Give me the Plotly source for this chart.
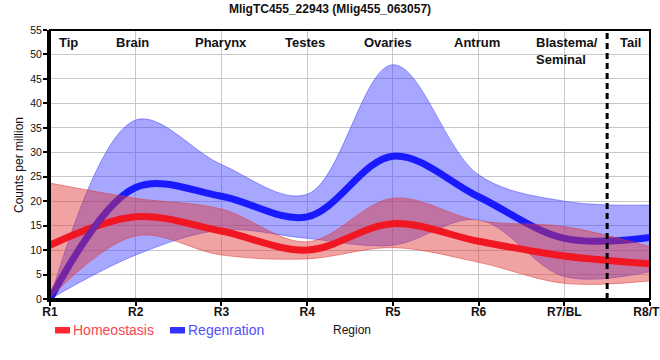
import plotly.graph_objects as go

regions = ["R1", "R2", "R3", "R4", "R5", "R6", "R7/BL", "R8/TL"]

homeo_mean = [11.0, 16.8, 13.9, 10.0, 15.4, 11.8, 8.8, 7.2]
homeo_upper = [23.7, 20.6, 18.4, 11.7, 20.6, 16.0, 14.8, 10.7]
homeo_lower = [0.3, 12.9, 9.0, 8.2, 10.5, 7.5, 3.2, 3.7]

regen_mean = [0.0, 22.8, 21.0, 16.8, 29.2, 20.9, 12.4, 12.6]
regen_upper = [0.0, 36.6, 27.5, 21.4, 47.9, 25.4, 20.0, 19.2]
regen_lower = [0.0, 9.0, 14.1, 12.4, 11.0, 16.2, 4.6, 5.6]

section_labels = ["Tip", "Brain", "Pharynx", "Testes", "Ovaries", "Antrum", "Blastema/<br>Seminal", "Tail"]
section_pos = [0.21, 0.96, 1.99, 2.97, 3.94, 4.98, 5.65, 6.77]
section_anchor = ["center"] * 6 + ["left", "center"]

title = "MligTC455_22943 (Mlig455_063057)"
series_names = ["Homeostasis", "Regenration"]
x_title = "Region"
y_title = "Counts per million"

FONT = "Arial, Liberation Sans, sans-serif"
RED_LINE = "rgb(255,0,20)"
BLUE_LINE = "rgb(26,26,255)"
RED_FILL = "rgba(225,50,50,0.45)"
BLUE_FILL = "rgba(60,60,255,0.45)"

W, H = 660, 360
# plot area in pixels: x 50..650, y 30..299
L, R, T, B = 50, 650, 30, 299
PW, PH = R - L, B - T

def px(xp):
    return (xp - L) / PW

def py(yp):
    return (B - yp) / PH

fig = go.Figure()
sp = dict(shape="spline", smoothing=1.0)

# Regeneration band
fig.add_trace(go.Scatter(x=regions, y=regen_upper, mode="lines",
                         line=dict(width=1, color="rgba(60,60,255,0.5)", **sp),
                         showlegend=False, hoverinfo="skip"))
fig.add_trace(go.Scatter(x=regions, y=regen_lower, mode="lines", fill="tonexty",
                         fillcolor=BLUE_FILL,
                         line=dict(width=1, color="rgba(60,60,255,0.5)", **sp),
                         showlegend=False, hoverinfo="skip"))
# Mean lines
fig.add_trace(go.Scatter(x=regions, y=homeo_mean, mode="lines",
                         line=dict(width=7, color=RED_LINE, **sp), showlegend=False))
fig.add_trace(go.Scatter(x=regions, y=regen_mean, mode="lines",
                         line=dict(width=7, color=BLUE_LINE, **sp), showlegend=False))
# Homeostasis band
fig.add_trace(go.Scatter(x=regions, y=homeo_upper, mode="lines",
                         line=dict(width=1, color="rgba(220,60,60,0.5)", **sp),
                         showlegend=False, hoverinfo="skip"))
fig.add_trace(go.Scatter(x=regions, y=homeo_lower, mode="lines", fill="tonexty",
                         fillcolor=RED_FILL,
                         line=dict(width=1, color="rgba(220,60,60,0.5)", **sp),
                         showlegend=False, hoverinfo="skip"))

# section labels
for lab, pos, anc in zip(section_labels, section_pos, section_anchor):
    fig.add_annotation(x=pos, y=55, xref="x", yref="y", text="<b>%s</b>" % lab,
                       showarrow=False, xanchor=anc, yanchor="top", align="left",
                       yshift=-3,
                       font=dict(family=FONT, size=13, color="#111"))

# dashed separator
fig.add_shape(type="line", x0=6.5, x1=6.5, y0=0, y1=1, xref="x", yref="paper",
              line=dict(color="black", width=3, dash="6px,4px"))
# frame
fig.add_shape(type="rect", x0=0, x1=1, y0=0, y1=1, xref="paper", yref="paper",
              line=dict(color="black", width=2), layer="above")

# manual legend
legend_items = [(series_names[0], "rgb(255,40,50)", "rgb(250,70,80)", 55, 74),
                (series_names[1], "rgb(50,50,255)", "rgb(80,80,255)", 170, 189)]
for name, col, tcol, rx, tx in legend_items:
    fig.add_shape(type="rect", xref="paper", yref="paper",
                  x0=px(rx), x1=px(rx + 15),
                  y0=py(333.5), y1=py(327),
                  line=dict(width=0), fillcolor=col)
    fig.add_annotation(xref="paper", yref="paper", x=px(tx), y=py(330),
                       text=name, showarrow=False, xanchor="left", yanchor="middle",
                       xshift=-3,
                       font=dict(family=FONT, size=14, color=tcol))

# axis titles
fig.add_annotation(xref="paper", yref="paper", x=px(352), y=py(330), text=x_title,
                   showarrow=False, xanchor="center", yanchor="middle",
                   font=dict(family=FONT, size=12, color="#111"))
fig.add_annotation(xref="paper", yref="paper", x=px(19), y=py(165), text=y_title,
                   showarrow=False, xanchor="center", yanchor="middle", textangle=-90,
                   font=dict(family=FONT, size=12, color="#111"))

fig.update_layout(
    width=W, height=H,
    margin=dict(l=L, r=W - R, t=T, b=H - B, autoexpand=False),
    paper_bgcolor="white", plot_bgcolor="white",
    title=dict(text="<b>%s</b>" % title, x=330 / W, xanchor="center",
               y=1 - 9 / H, yanchor="middle",
               font=dict(family=FONT, size=12, color="#111")),
    font=dict(family=FONT, color="#111"),
    showlegend=False,
)
fig.update_xaxes(type="category", categoryorder="array", categoryarray=regions,
                 range=[0, 7], showgrid=True, gridcolor="#c8c8c8", gridwidth=1,
                 showline=True, linecolor="black", linewidth=3,
                 ticks="outside", ticklen=4, tickwidth=2, tickcolor="black",
                 ticklabelstandoff=-4,
                 tickfont=dict(family=FONT, size=12, color="#111", weight="bold"),
                 automargin=False, zeroline=False)
fig.update_yaxes(range=[0, 55], dtick=5, showgrid=True, gridcolor="#c8c8c8", gridwidth=1,
                 showline=True, linecolor="black", linewidth=3,
                 ticks="outside", ticklen=4, tickwidth=2, tickcolor="black",
                 ticklabelstandoff=-1,
                 tickfont=dict(family=FONT, size=10.5, color="#111"),
                 automargin=False, zeroline=False)

fig.write_html("out.html",
               config={"displayModeBar": False},
               post_script="document.body.style.margin='0';document.body.style.overflow='hidden';")
